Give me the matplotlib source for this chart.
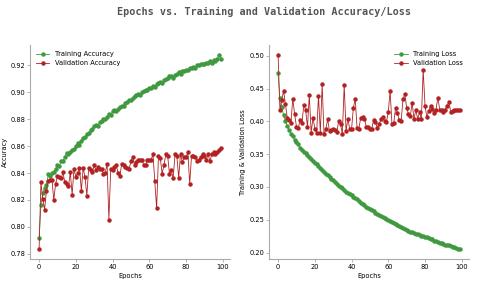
import numpy as np
import matplotlib
matplotlib.use("Agg")
import matplotlib.pyplot as plt

# values (100 epochs)
train_acc = [
    0.792, 0.816, 0.825, 0.829, 0.831, 0.839, 0.838, 0.840, 0.841, 0.843,
    0.846, 0.845, 0.849, 0.849, 0.852, 0.855, 0.854, 0.856, 0.857, 0.858,
    0.860, 0.862, 0.861, 0.864, 0.866, 0.867, 0.869, 0.870, 0.872, 0.873,
    0.875, 0.876, 0.875, 0.878, 0.879, 0.880, 0.880, 0.882, 0.884, 0.883,
    0.886, 0.887, 0.886, 0.888, 0.889, 0.890, 0.890, 0.892, 0.893, 0.894,
    0.894, 0.896, 0.897, 0.898, 0.899, 0.898, 0.900, 0.901, 0.902, 0.902,
    0.903, 0.903, 0.905, 0.904, 0.906, 0.907, 0.908, 0.907, 0.909, 0.910,
    0.911, 0.912, 0.912, 0.911, 0.913, 0.914, 0.915, 0.914, 0.916, 0.916,
    0.917, 0.917, 0.918, 0.918, 0.919, 0.918, 0.920, 0.920, 0.921, 0.921,
    0.921, 0.922, 0.922, 0.923, 0.922, 0.924, 0.923, 0.925, 0.928, 0.925,
]
val_acc = [
    0.7833, 0.8330, 0.8207, 0.8128, 0.8270, 0.8340, 0.8345, 0.8350, 0.8200, 0.8320,
    0.8375, 0.8370, 0.8360, 0.8405, 0.8330, 0.8320, 0.8300, 0.8405, 0.8240, 0.8430,
    0.8370, 0.8400, 0.8438, 0.8270, 0.8438, 0.8370, 0.8233, 0.8440, 0.8420, 0.8408,
    0.8458, 0.8420, 0.8445, 0.8430, 0.8428, 0.8395, 0.8400, 0.8470, 0.8053, 0.8430,
    0.8420, 0.8445, 0.8460, 0.8400, 0.8380, 0.8470, 0.8460, 0.8445, 0.8438, 0.8428,
    0.8488, 0.8520, 0.8458, 0.8480, 0.8495, 0.8500, 0.8495, 0.8460, 0.8458, 0.8500,
    0.8495, 0.8500, 0.8538, 0.8338, 0.8138, 0.8530, 0.8510, 0.8395, 0.8460, 0.8538,
    0.8528, 0.8395, 0.8420, 0.8363, 0.8538, 0.8530, 0.8363, 0.8545, 0.8480, 0.8520,
    0.8520, 0.8553, 0.8320, 0.8530, 0.8528, 0.8520, 0.8488, 0.8500, 0.8520, 0.8538,
    0.8530, 0.8495, 0.8538, 0.8488, 0.8538, 0.8553, 0.8545, 0.8558, 0.8570, 0.8590,
]
train_loss = [
    0.473, 0.435, 0.422, 0.409, 0.400, 0.393, 0.387, 0.381, 0.377, 0.372,
    0.368, 0.365, 0.360, 0.357, 0.354, 0.351, 0.349, 0.346, 0.343, 0.340,
    0.337, 0.335, 0.332, 0.329, 0.326, 0.323, 0.320, 0.318, 0.315, 0.312,
    0.310, 0.307, 0.305, 0.302, 0.300, 0.298, 0.296, 0.293, 0.291, 0.289,
    0.287, 0.285, 0.283, 0.281, 0.278, 0.276, 0.274, 0.272, 0.270, 0.268,
    0.266, 0.265, 0.263, 0.261, 0.259, 0.258, 0.256, 0.254, 0.253, 0.251,
    0.250, 0.248, 0.246, 0.245, 0.243, 0.242, 0.240, 0.239, 0.237, 0.236,
    0.234, 0.233, 0.232, 0.231, 0.230, 0.229, 0.228, 0.227, 0.226, 0.225,
    0.224, 0.223, 0.222, 0.221, 0.220, 0.218, 0.217, 0.216, 0.215, 0.214,
    0.213, 0.212, 0.212, 0.211, 0.210, 0.209, 0.208, 0.207, 0.206, 0.205,
]
val_loss = [
    0.5015, 0.4170, 0.4327, 0.4460, 0.4260, 0.4056, 0.4020, 0.3980, 0.4347, 0.4110,
    0.3920, 0.3900, 0.4020, 0.3980, 0.4245, 0.4180, 0.3910, 0.4400, 0.3827, 0.4056,
    0.3890, 0.3827, 0.4390, 0.3827, 0.4566, 0.3800, 0.3880, 0.4030, 0.3850, 0.3870,
    0.3890, 0.3870, 0.3840, 0.4005, 0.3954, 0.3810, 0.4556, 0.3850, 0.4040, 0.3880,
    0.3880, 0.4210, 0.4337, 0.3900, 0.3890, 0.4056, 0.4070, 0.4040, 0.3920, 0.3920,
    0.3890, 0.3890, 0.4020, 0.3990, 0.3900, 0.3954, 0.4030, 0.4070, 0.4005, 0.3990,
    0.4143, 0.4464, 0.3954, 0.3980, 0.4210, 0.4122, 0.4020, 0.4005, 0.4337, 0.4413,
    0.4210, 0.4110, 0.4080, 0.4286, 0.4030, 0.4180, 0.4030, 0.4143, 0.4030, 0.4786,
    0.4235, 0.4066, 0.4158, 0.4235, 0.4194, 0.4133, 0.4180, 0.4362, 0.4180, 0.4173,
    0.4143, 0.4173, 0.4235, 0.4296, 0.4143, 0.4158, 0.4173, 0.4170, 0.4180, 0.4180,
]
epochs = np.arange(len(train_acc))

green = "#3f9a3f"
red = "#b22222"

fig = plt.figure(figsize=(4.8, 2.84), dpi=100)
fig.suptitle("Epochs vs. Training and Validation Accuracy/Loss", family="DejaVu Sans Mono",
             fontweight="bold", fontsize=7.3, color="#555555", x=0.55, y=0.975)

ax1 = fig.add_axes([0.0625, 0.088, 0.4167, 0.7535])
ax2 = fig.add_axes([0.5604, 0.088, 0.4167, 0.7535])

ax1.plot(epochs, train_acc, color=green, marker="o", ms=2.2, lw=0.6, label="Training Accuracy")
ax1.plot(epochs, val_acc, color=red, marker="o", ms=2.2, lw=0.6, label="Validation Accuracy")
ax1.set_ylabel("Accuracy", fontsize=4.8, labelpad=2)
ax1.legend(loc="upper left", frameon=False, fontsize=4.8)

ax2.plot(epochs, train_loss, color=green, marker="o", ms=2.2, lw=0.6, label="Training Loss")
ax2.plot(epochs, val_loss, color=red, marker="o", ms=2.2, lw=0.6, label="Validation Loss")
ax2.set_ylabel("Training & Validation Loss", fontsize=4.8, labelpad=2)
ax2.legend(loc="upper right", frameon=False, fontsize=4.8)

for ax in (ax1, ax2):
    ax.set_xlabel("Epochs", fontsize=4.8, labelpad=2)
    ax.set_xticks([0, 20, 40, 60, 80, 100])
    ax.tick_params(labelsize=4.8, length=2, width=0.5, color="#999999", pad=1.5)
    for side in ("top", "right"):
        ax.spines[side].set_visible(False)
    for side in ("left", "bottom"):
        ax.spines[side].set_color("#aaaaaa")
        ax.spines[side].set_linewidth(0.8)

fig.savefig("out.png", dpi=100)
